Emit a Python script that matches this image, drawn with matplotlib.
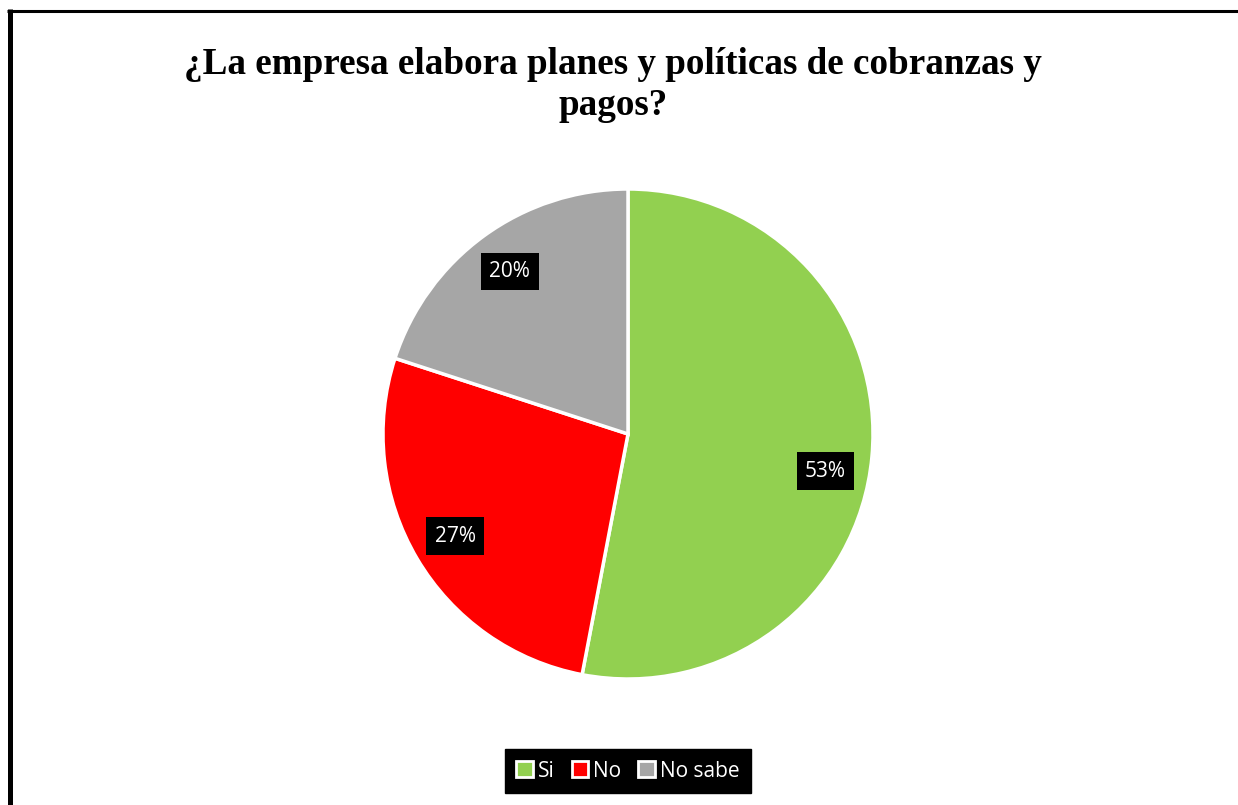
import matplotlib
matplotlib.use("Agg")
import numpy as np
import matplotlib.pyplot as plt
from matplotlib.lines import Line2D
from matplotlib.patches import Patch

categories = ["Si", "No", "No sabe"]
values = [53, 27, 20]
labels_pct = ["53%", "27%", "20%"]
colors = ["#92D050", "#FF0000", "#A6A6A6"]
title = "¿La empresa elabora planes y políticas de cobranzas y\npagos?"

W, H = 1238, 805
fig = plt.figure(figsize=(W / 100, H / 100), dpi=100)
fig.patch.set_facecolor("white")

cx, cy, R = 628, 434, 245
ax = fig.add_axes([(cx - R) / W, (H - cy - R) / H, 2 * R / W, 2 * R / H])
wedges, texts = ax.pie(values, colors=colors, startangle=90, counterclock=False,
                       radius=1, labels=labels_pct, labeldistance=0.82,
                       wedgeprops=dict(edgecolor="white", linewidth=2.5))
for i, t in enumerate(texts):
    t.set_color("white")
    t.set_fontsize(15)
    t.set_family("Open Sans")
    t.set_ha("center")
    t.set_va("center")
    t.set_bbox(dict(facecolor="black", edgecolor="none", pad=6))
# Excel-like placement nudge for the large slice label
x0, y0 = texts[0].get_position()
texts[0].set_position((x0 - 0.01, y0 - 0.075))
ax.set_xlim(-1, 1)
ax.set_ylim(-1, 1)
ax.set_aspect("equal")
ax.axis("off")

fig.text(613 / W, 1 - 85 / H, title, ha="center", va="center",
         fontsize=26.7, fontweight="bold", family="Liberation Serif",
         linespacing=1.2)

handles = [Patch(facecolor=c, edgecolor="white", linewidth=2) for c in colors]
leg = fig.legend(handles, categories, loc="center", bbox_to_anchor=(628 / W, 1 - 771 / H),
                 ncol=3, frameon=True, fancybox=False, handlelength=0.8, handleheight=0.8,
                 handletextpad=0.25, columnspacing=0.8,
                 prop={"family": "Open Sans", "size": 15}, borderpad=0.55,
                 borderaxespad=0)
leg.get_frame().set_facecolor("black")
leg.get_frame().set_edgecolor("black")
leg.get_frame().set_alpha(1)
for t in leg.get_texts():
    t.set_color("white")

# border lines
fig.add_artist(Line2D([9.5 / W, 9.5 / W], [0, 1 - 9 / H], transform=fig.transFigure,
                      color="black", linewidth=3.6, solid_capstyle="butt"))
fig.add_artist(Line2D([7 / W, 1], [1 - 11 / H, 1 - 11 / H], transform=fig.transFigure,
                      color="black", linewidth=2.2, solid_capstyle="butt"))

fig.savefig("out.png", dpi=100, facecolor="white")
